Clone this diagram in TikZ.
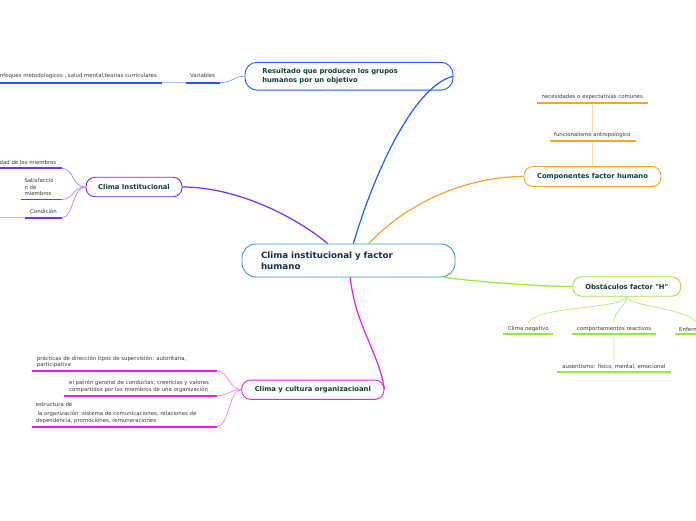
\documentclass[tikz,border=0pt]{standalone}
\usepackage{fontspec}
\setmainfont{DejaVu Sans}
\usetikzlibrary{calc}
\definecolor{rootblue}{HTML}{3B95D6}
\definecolor{navytext}{HTML}{1A2B50}
\definecolor{titlegreen}{HTML}{0E4030}
\definecolor{resblue}{HTML}{1F5BFF}
\definecolor{ipurple}{HTML}{7B2BF9}
\definecolor{corange}{HTML}{F8A428}
\definecolor{olime}{HTML}{93EC38}
\definecolor{cmagenta}{HTML}{E81EE8}
\definecolor{leafgray}{HTML}{3A3A3A}
\newcommand{\leaffont}{\fontsize{5.4}{6.4}\selectfont}
\newcommand{\titlefont}{\fontsize{6.8}{8.3}\selectfont\bfseries}
\newcommand{\rootfont}{\fontsize{8.7}{11}\selectfont\bfseries}
\tikzset{
  box/.style={draw, line width=0.9pt, fill=white, inner sep=0pt, rounded corners=9pt, font=\titlefont, text=titlegreen},
  leaf/.style={inner sep=0pt, font=\leaffont, text=leafgray, align=left},
  ul/.style={line width=1.8pt},
  conn/.style={line width=1.2pt},
  sub/.style={line width=0.75pt},
}
\begin{document}
\begin{tikzpicture}[x=1pt,y=-1pt]
\useasboundingbox (0,0) rectangle (696,520);
\fill[white] (0,0) rectangle (696,520);

% main nodes
\node[box, draw=rootblue, rounded corners=14pt, minimum width=213pt, minimum height=33pt, text width=175pt, align=left, font=\rootfont, text=navytext] (root) at (348.5,260.5) {Clima institucional y factor\\humano};
\node[box, draw=resblue, rounded corners=12pt, minimum width=208pt, minimum height=27.7pt, text width=173.4pt, align=left] (res) at (349,76.2) {Resultado que producen los grupos\\humanos por un objetivo};
\node[box, draw=ipurple, minimum width=96pt, minimum height=19.5pt] (ci) at (134,187) {Clima Institucional};
\node[box, draw=corange, minimum width=137pt, minimum height=20pt] (comp) at (592.5,176.5) {Componentes factor humano};
\node[box, draw=olime, minimum width=108pt, minimum height=19.5pt] (ob) at (626.7,286.5) {Obstáculos factor \textquotedbl H\textquotedbl};
\node[box, draw=cmagenta, minimum width=142.3pt, minimum height=19.3pt] (cc) at (312.8,389.7) {Clima y cultura organizacioanl};

% main connectors
\draw[conn, resblue] (root.74.7) .. controls (375,170) and (415,85) .. (res.east);
\draw[conn, ipurple] (root.141) .. controls (300,220) and (240,187) .. (ci.east);
\draw[conn, corange] (root.40.2) .. controls (410,200) and (470,176.5) .. (comp.west);
\draw[conn, olime] (root.-10.2) .. controls (480,282) and (540,286.5) .. (ob.west);
\draw[conn, cmagenta] (root.-84.8) .. controls (355,325) and (380,355) .. (cc.east);

% Resultado branch
\node[leaf, anchor=east] (enf) at (157,75.7) {enfoques metodologicos , salud mental,teorias curriculares};
\node[leaf, anchor=west] (var) at (190,75.7) {Variables};
\coordinate (varL) at (185.7,82.7);
\coordinate (varR) at (220,82.7);
\coordinate (enfR) at (162,82.7);
\coordinate (enfL) at (-5,82.7);
\draw[ul, resblue] (varL) -- (varR);
\draw[ul, resblue] (enfL) -- (enfR);
\draw[line width=1.4pt, resblue!35] (enfR) -- (varL);
\draw[sub, resblue!55] (res.west) .. controls (234,76.2) and (232,82.7) .. (varR);

% Clima Institucional branch
\node[leaf, anchor=east] (est) at (56.5,162) {Estabilidad de los miembros};
\node[leaf, anchor=west] (sat) at (24.3,187) {Satisfacció\\n de\\miembros};
\node[leaf, anchor=west] (cond) at (30,211) {Condición};
\coordinate (estL) at (-5,168.3);
\coordinate (estR) at (61.7,168.3);
\coordinate (satL) at (20.7,199.5);
\coordinate (satR) at (61.7,199.5);
\coordinate (condL) at (25,217.7);
\coordinate (condR) at (61.7,217.7);
\coordinate (condX) at (-5,217.7);
\draw[ul, ipurple] (estL) -- (estR);
\draw[ul, ipurple] (satL) -- (satR);
\draw[ul, ipurple] (condL) -- (condR);
\draw[line width=1.4pt, ipurple!35] (condX) -- (condL);
\draw[sub, ipurple!55] (ci.west) .. controls (72,187) and (74,168.3) .. (estR);
\draw[sub, ipurple!55] (ci.west) .. controls (72,187) and (74,199.5) .. (satR);
\draw[sub, ipurple!55] (ci.west) .. controls (72,187) and (74,217.7) .. (condR);

% Componentes branch
\node[leaf] (nec) at (592.3,97.3) {necesidades o expectativas comunes};
\node[leaf] (fun) at (592.3,135) {funcionalismo antropológico};
\coordinate (necL) at (537,102.7);
\coordinate (necR) at (648,102.7);
\coordinate (necM) at (592.5,102.7);
\coordinate (funL) at (549.7,141);
\coordinate (funR) at (636,141);
\coordinate (funM) at (592.5,141);
\draw[line width=1pt, corange!40] (comp.north) -- (funM);
\draw[line width=1pt, corange!40] (fun.north) -- (necM);
\draw[ul, corange] (necL) -- (necR);
\draw[ul, corange] (funL) -- (funR);

% Obstaculos branch
\node[leaf] (cneg) at (528.3,329) {Clima negativo};
\node[leaf] (comr) at (614.2,329) {comportamientos reactivos};
\node[leaf, anchor=west] (enfm) at (679,329) {Enfermedades};
\node[leaf] (aus) at (613.9,366.7) {ausentismo: físico, mental, emocional};
\coordinate (cnegL) at (503,334.3);
\coordinate (cnegR) at (553,334.3);
\coordinate (comrL) at (571.7,334.3);
\coordinate (comrR) at (656,334.3);
\coordinate (comrM) at (614,334.3);
\coordinate (enfmL) at (675,334.3);
\coordinate (enfmR) at (730,334.3);
\coordinate (ausL) at (556.7,371.7);
\coordinate (ausR) at (670.7,371.7);
\draw[ul, olime] (cnegL) -- (cnegR);
\draw[ul, olime] (comrL) -- (comrR);
\draw[ul, olime] (enfmL) -- (enfmR);
\draw[ul, olime] (ausL) -- (ausR);
\draw[sub, olime!70] (ob.south) .. controls (620,310) and (540,305) .. ($(cneg.north)+(0,-3.5)$);
\draw[sub, olime!70] (ob.south) .. controls (626.7,306) and (614,310) .. ($(comr.north)+(0,-3.5)$);
\draw[sub, olime!70] (ob.south) .. controls (630,307) and (680,306) .. ($(enfm.north)+(0,-3.5)$);
\draw[line width=1pt, olime!45] (comrM) -- ($(aus.north)+(0,-4)$);

% Clima y cultura branch
\node[leaf, anchor=west] (prac) at (36.7,361.7) {prácticas de dirección tipos de supervisión: autoritaria,\\participativa};
\node[leaf, anchor=west] (patr) at (69,386.3) {el patrón general de conductas, creencias y valores\\compartidos por los miembros de una organización};
\node[leaf, anchor=west] (estr) at (35.7,413) {estructura de\\[2.5pt]\hspace*{1.7pt}la organización :sistema de comunicaciones, relaciones de\\dependencia, promociones, remuneraciones};
\coordinate (pracL) at (32,371);
\coordinate (pracR) at (216.7,371);
\coordinate (patrL) at (64,395.7);
\coordinate (patrR) at (216.7,395.7);
\coordinate (estrL) at (32,426.7);
\coordinate (estrR) at (216.7,426.7);
\draw[ul, cmagenta] (pracL) -- (pracR);
\draw[ul, cmagenta] (patrL) -- (patrR);
\draw[ul, cmagenta] (estrL) -- (estrR);
\draw[sub, cmagenta!55] (cc.west) .. controls (229,389.7) and (229,371) .. (pracR);
\draw[sub, cmagenta!55] (cc.west) .. controls (229,389.7) and (229,395.7) .. (patrR);
\draw[sub, cmagenta!55] (cc.west) .. controls (229,389.7) and (229,426.7) .. (estrR);
\end{tikzpicture}
\end{document}
